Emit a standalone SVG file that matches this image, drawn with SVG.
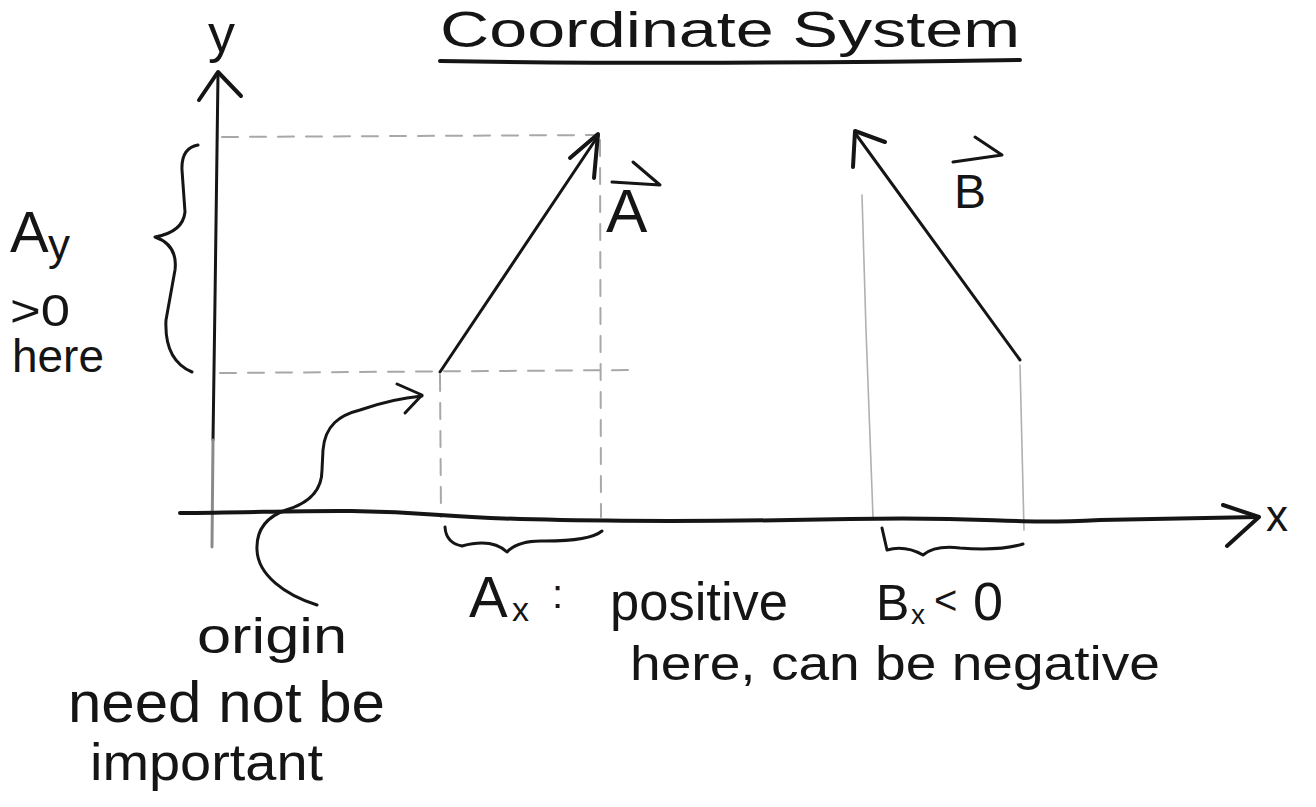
<svg xmlns="http://www.w3.org/2000/svg" width="1316" height="807" viewBox="0 0 1316 807">
<style>
.ink{fill:none;stroke:#151515;stroke-linecap:round;stroke-linejoin:round}
.w2{stroke-width:2.2}
.w3{stroke-width:3}
.w4{stroke-width:4}
.dash{fill:none;stroke:#a8a8a8;stroke-width:2;stroke-dasharray:16 12;stroke-linecap:round}
.thin{fill:none;stroke:#b0b0b0;stroke-width:1.6;stroke-linecap:round}
.t{font-family:"Liberation Sans",Arial,sans-serif;fill:#151515}
</style>
<rect width="1316" height="807" fill="#ffffff"/>

<g id="title">
  <text class="t" x="440" y="47" font-size="50" textLength="580" lengthAdjust="spacingAndGlyphs">Coordinate System</text>
  <path class="ink w4" d="M440,61 Q700,65 1020,60"/>
</g>

<g id="guides">
  <path class="dash" d="M222,137 L598,135"/>
  <path class="dash" d="M220,373 L630,370"/>
  <path class="dash" d="M440,375 L441,517"/>
  <path class="dash" d="M600,140 L601,517"/>
  <path class="thin" d="M862,195 L866,330 L873,517"/>
  <path class="thin" d="M1020,365 L1024,530"/>
</g>

<g id="y-axis">
  <path class="ink w3" d="M218,74 L215,300 L213,440"/>
  <path class="ink w3" d="M213,440 L212,547" style="stroke:#8a8a8a"/>
  <path class="ink w4" d="M199,100 L218,72 L241,96"/>
  <text class="t" x="208" y="52" font-size="54">y</text>
</g>

<g id="x-axis">
  <path class="ink w4" d="M180,513 C300,512 350,508 440,515 S700,522 850,519 S1000,525 1100,520 L1258,517"/>
  <path class="ink w4" d="M1223,505 L1259,517 L1227,546"/>
  <text class="t" x="1266" y="531" font-size="44">x</text>
</g>

<g id="vector-a">
  <path class="ink w3" d="M440,372 L598,136"/>
  <path class="ink w4" d="M570,158 L598,134 L594,178"/>
  <text class="t" x="606" y="232" font-size="62">A</text>
  <path class="ink w3" d="M612,182 L660,185 L633,162"/>
</g>

<g id="vector-b">
  <path class="ink w3" d="M1020,360 L855,133"/>
  <path class="ink w4" d="M853,167 L855,131 L885,142"/>
  <text class="t" x="954" y="208" font-size="48">B</text>
  <path class="ink w3" d="M953,162 L1002,155 L975,137"/>
</g>

<g id="brace-ay">
  <path class="ink w3" d="M198,145 Q181,148 182,170 L185,212 Q183,232 155,237 Q178,245 175,270 L166,320 Q164,360 192,372"/>
  <text class="t" x="10" y="252" font-size="58">A</text>
  <text class="t" x="48" y="260" font-size="44">y</text>
  <text class="t" x="10" y="326" font-size="44" textLength="60" lengthAdjust="spacingAndGlyphs">&gt;0</text>
  <text class="t" x="12" y="372" font-size="46" textLength="92" lengthAdjust="spacingAndGlyphs">here</text>
</g>

<g id="brace-ax">
  <path class="ink w3" d="M445,527 Q446,543 462,546 Q492,538 507,552 Q518,540 545,541 Q590,541 602,531"/>
  <text class="t" x="469" y="617" font-size="58">A</text>
  <text class="t" x="512" y="621" font-size="34">x</text>
  <text class="t" x="552" y="608" font-size="40">:</text>
  <text class="t" x="610" y="620" font-size="54" textLength="178" lengthAdjust="spacingAndGlyphs">positive</text>
</g>

<g id="brace-bx">
  <path class="ink w3" d="M882,528 L887,550 Q905,545 923,555 Q935,545 960,548 Q1000,551 1023,544"/>
  <text class="t" x="876" y="620" font-size="50">B</text>
  <text class="t" x="911" y="624" font-size="28">x</text>
  <text class="t" x="934" y="614" font-size="40">&lt;</text>
  <text class="t" x="973" y="620" font-size="54">0</text>
</g>

<g id="note-sign">
  <text class="t" x="630" y="680" font-size="48" textLength="530" lengthAdjust="spacingAndGlyphs">here, can be negative</text>
</g>

<g id="note-origin">
  <text class="t" x="197" y="653" font-size="50" textLength="150" lengthAdjust="spacingAndGlyphs">origin</text>
  <text class="t" x="68" y="722" font-size="58" textLength="317" lengthAdjust="spacingAndGlyphs">need not be</text>
  <text class="t" x="90" y="780" font-size="52" textLength="233" lengthAdjust="spacingAndGlyphs">important</text>
</g>

<g id="connectors">
  <path class="ink w3" d="M317,605 C285,595 258,575 257,550 C256,530 266,517 286,510 C310,503 322,490 322,470 L323,450 C325,425 340,415 360,410 C380,403 400,398 422,396"/>
  <path class="ink w3" d="M397,384 L422,395 L405,413"/>
</g>
</svg>
